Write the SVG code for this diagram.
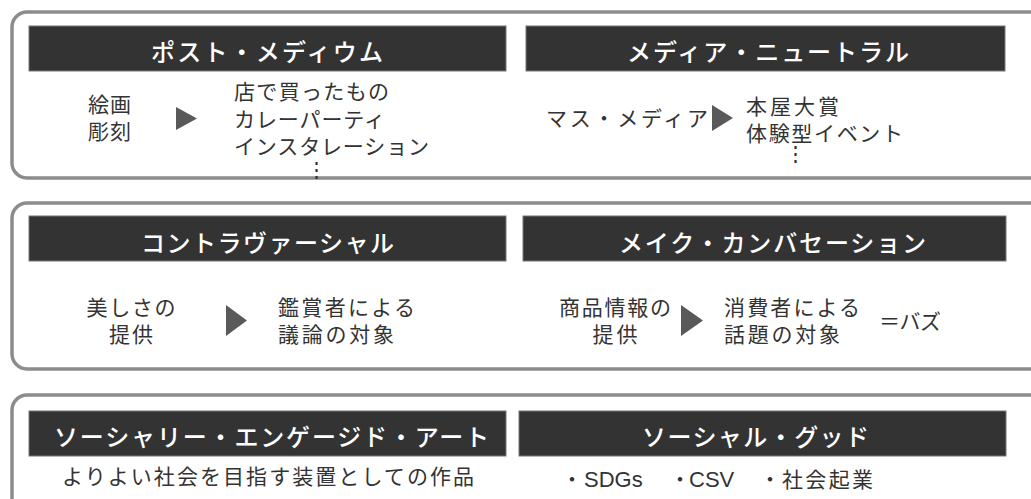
<svg xmlns="http://www.w3.org/2000/svg" width="1031" height="499" viewBox="0 0 1031 499">
<style>
.panel{fill:#fff;stroke:#8c8c8c;stroke-width:3.5}
.hdr{fill:#333;stroke:#777;stroke-width:1}
.ht{font-family:"Noto Sans CJK JP","Noto Sans",sans-serif;font-weight:500;font-size:24px;fill:#fff}
.bt{font-family:"Noto Sans CJK JP","Noto Sans",sans-serif;font-size:21px;fill:#333}
.lat{font-family:"Liberation Sans",Arial,sans-serif;font-size:22px}
.arr{fill:#595959}
</style>
<rect width="1031" height="499" fill="#fff"/>
<g id="panel-1">
<rect class="panel" x="12" y="12" width="1040" height="166" rx="15"/>
</g>
<g id="panel-2">
<rect class="panel" x="12" y="203" width="1040" height="166" rx="15"/>
</g>
<g id="panel-3">
<rect class="panel" x="12" y="395" width="1040" height="140" rx="15"/>
</g>

<g id="post-medium">
<rect class="hdr" x="29" y="26" width="477" height="45"/>
<text class="ht" x="151" y="61" textLength="232" lengthAdjust="spacing">ポスト・メディウム</text>
<text class="bt" x="88" y="112" textLength="43" lengthAdjust="spacing">絵画</text>
<text class="bt" x="88" y="139" textLength="43" lengthAdjust="spacing">彫刻</text>
<text class="bt" x="234" y="99" textLength="155" lengthAdjust="spacing">店で買ったもの</text>
<text class="bt" x="234" y="126.5" textLength="151" lengthAdjust="spacing">カレーパーティ</text>
<text class="bt" x="234" y="154" textLength="195" lengthAdjust="spacing">インスタレーション</text>
<text class="bt" x="316" y="177" text-anchor="middle" font-size="19">⋮</text>
</g>

<g id="media-neutral">
<rect class="hdr" x="526" y="26" width="479" height="45"/>
<text class="ht" x="627" y="61" textLength="282" lengthAdjust="spacing">メディア・ニュートラル</text>
<text class="bt" x="546" y="126" textLength="162" lengthAdjust="spacing">マス・メディア</text>
<text class="bt" x="746" y="114" textLength="93" lengthAdjust="spacing">本屋大賞</text>
<text class="bt" x="746" y="141" textLength="157" lengthAdjust="spacing">体験型イベント</text>
<text class="bt" x="795" y="161" text-anchor="middle" font-size="16">⋮</text>
</g>

<g id="controversial">
<rect class="hdr" x="29" y="216" width="477" height="45"/>
<text class="ht" x="141" y="252" textLength="253" lengthAdjust="spacing">コントラヴァーシャル</text>
<text class="bt" x="131" y="315" text-anchor="middle" textLength="89" lengthAdjust="spacing">美しさの</text>
<text class="bt" x="131" y="342" text-anchor="middle" textLength="44" lengthAdjust="spacing">提供</text>
<text class="bt" x="278" y="315" textLength="137" lengthAdjust="spacing">鑑賞者による</text>
<text class="bt" x="278" y="342" textLength="116" lengthAdjust="spacing">議論の対象</text>
</g>

<g id="make-conversation">
<rect class="hdr" x="523" y="216" width="483" height="45"/>
<text class="ht" x="619" y="252" textLength="307" lengthAdjust="spacing">メイク・カンバセーション</text>
<text class="bt" x="615" y="315" text-anchor="middle" textLength="112" lengthAdjust="spacing">商品情報の</text>
<text class="bt" x="615" y="342" text-anchor="middle" textLength="45" lengthAdjust="spacing">提供</text>
<text class="bt" x="724" y="315" textLength="136" lengthAdjust="spacing">消費者による</text>
<text class="bt" x="724" y="342" textLength="116" lengthAdjust="spacing">話題の対象</text>
<text class="bt" x="879" y="329" textLength="62" lengthAdjust="spacing">＝バズ</text>
</g>

<g id="socially-engaged-art">
<rect class="hdr" x="29" y="411" width="477" height="45"/>
<text class="ht" x="54" y="446" textLength="435" lengthAdjust="spacing">ソーシャリー・エンゲージド・アート</text>
<text class="bt" x="268" y="484" text-anchor="middle" textLength="412" lengthAdjust="spacing">よりよい社会を目指す装置としての作品</text>
</g>

<g id="social-good">
<rect class="hdr" x="519" y="411" width="487" height="45"/>
<text class="ht" x="642" y="446" textLength="227" lengthAdjust="spacing">ソーシャル・グッド</text>
<text class="bt" x="561.5" y="487">・<tspan class="lat" x="584">SDGs</tspan></text>
<text class="bt" x="669.5" y="487">・<tspan class="lat" x="689">CSV</tspan></text>
<text class="bt" x="759.5" y="487">・<tspan x="782" textLength="91" lengthAdjust="spacing">社会起業</tspan></text>
</g>

<g id="connectors">
<polygon class="arr" points="176,107 197,118.5 176,130"/>
<polygon class="arr" points="712,105 733,118 712,131"/>
<polygon class="arr" points="226,305 247,320.5 226,336"/>
<polygon class="arr" points="681,305 703,320.5 681,336"/>
</g>
</svg>
